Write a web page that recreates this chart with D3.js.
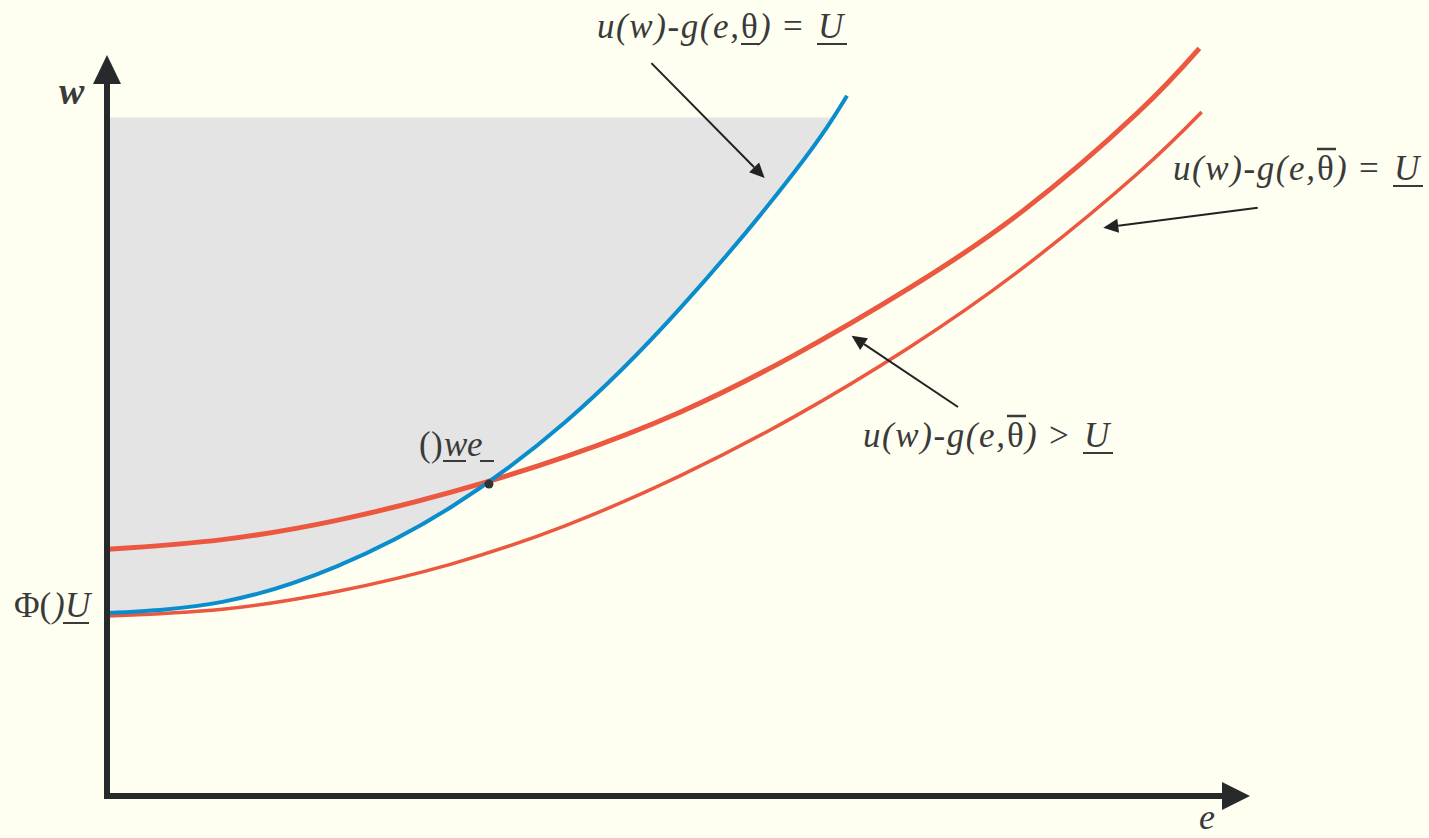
<!DOCTYPE html>
<html>
<head>
<meta charset="utf-8">
<script src="https://cdn.jsdelivr.net/npm/d3@7"></script>
<style>
  html, body { margin: 0; padding: 0; background: #fefff1; }
  svg { display: block; }
  .lbl { font-family: "Liberation Serif", "Times New Roman", serif; fill: #3a3a3a; }
</style>
</head>
<body>
<svg id="chart" width="1429" height="838"></svg>
<script>
// Effort e (horizontal) and wage w (vertical), in model units.
const blueE = [0, 1, 2, 3, 4, 5, 6, 6.46];
const blueW = [2.47, 2.62, 3.10, 3.90, 5.05, 6.58, 8.42, 9.45];

const redHighE = [0, 1, 2, 3, 4, 5, 6, 7, 8, 9, 9.54];
const redHighW = [3.33, 3.46, 3.72, 4.10, 4.58, 5.18, 5.95, 6.85, 7.90, 9.22, 10.09];

const redLowE = [0, 1, 2, 3, 4, 5, 6, 7, 8, 9, 9.56];
const redLowW = [2.43, 2.52, 2.76, 3.13, 3.65, 4.32, 5.12, 6.05, 7.13, 8.40, 9.23];

// Contract point where the blue and thick red curves cross
const contractE = 3.33;
const contractW = 4.25;

// Upper edge of the shaded set
const shadeTopW = 9.16;

// Annotation arrows: [fromE, fromW, toE, toW]
const arrows = [
  [4.75, 9.89, 5.74, 8.34],
  [10.05, 7.94, 8.70, 7.67],
  [7.43, 5.25, 6.50, 6.21]
];

const W = 1429, H = 838;
const svg = d3.select("#chart");

const x = d3.scaleLinear().domain([0, 10]).range([108, 1252]);
const y = d3.scaleLinear().domain([0, 10]).range([796, 55]);

svg.append("rect").attr("width", W).attr("height", H).attr("fill", "#fefff1");

const toPts = (es, ws) => es.map((e, i) => [e, ws[i]]);
const bluePts = toPts(blueE, blueW);
const redHighPts = toPts(redHighE, redHighW);
const redLowPts = toPts(redLowE, redLowW);

const curve = d3.curveNatural;
const line = d3.line().x(d => x(d[0])).y(d => y(d[1])).curve(curve);

// Shaded region: between the blue curve and the top edge
const defs = svg.append("defs");
defs.append("clipPath").attr("id", "shadeClip")
  .append("rect")
  .attr("x", x(0)).attr("y", y(shadeTopW))
  .attr("width", x(10) - x(0)).attr("height", y(0) - y(shadeTopW));

svg.append("path")
  .attr("clip-path", "url(#shadeClip)")
  .attr("fill", "#e4e4e4")
  .attr("d", d3.area()
    .x(d => x(d[0]))
    .y0(d => y(d[1]))
    .y1(() => y(shadeTopW))
    .curve(curve)(bluePts));

// Curves
svg.append("path").attr("d", line(redLowPts))
  .attr("fill", "none").attr("stroke", "#ec5740").attr("stroke-width", 3.5);
svg.append("path").attr("d", line(redHighPts))
  .attr("fill", "none").attr("stroke", "#ec5740").attr("stroke-width", 5);
svg.append("path").attr("d", line(bluePts))
  .attr("fill", "none").attr("stroke", "#0a8dcc").attr("stroke-width", 4);

svg.append("circle")
  .attr("cx", x(contractE)).attr("cy", y(contractW) + 3).attr("r", 4.5)
  .attr("fill", "#333");

// Axes with arrowheads
const axisColor = "#262a2b";
const ox = x(0) - 1, oy = y(0);
svg.append("line").attr("x1", ox).attr("y1", oy + 3).attr("x2", ox).attr("y2", 80)
  .attr("stroke", axisColor).attr("stroke-width", 6);
svg.append("path")
  .attr("d", `M${ox},55 L${ox + 14},84 L${ox - 14},84 Z`).attr("fill", axisColor);
svg.append("line").attr("x1", ox - 3).attr("y1", oy).attr("x2", 1226).attr("y2", oy)
  .attr("stroke", axisColor).attr("stroke-width", 6);
svg.append("path")
  .attr("d", `M1250,${oy} L1222,${oy - 14} L1222,${oy + 14} Z`).attr("fill", axisColor);

// Annotation arrows
arrows.forEach(([e0, w0, e1, w1]) => {
  const x0 = x(e0), y0 = y(w0), x1 = x(e1), y1 = y(w1);
  const ang = Math.atan2(y1 - y0, x1 - x0);
  const len = 15, half = 7;
  const bx = x1 - len * Math.cos(ang), by = y1 - len * Math.sin(ang);
  svg.append("line").attr("x1", x0).attr("y1", y0).attr("x2", bx).attr("y2", by)
    .attr("stroke", "#222").attr("stroke-width", 2);
  const px = -Math.sin(ang) * half, py = Math.cos(ang) * half;
  svg.append("path")
    .attr("d", `M${x1},${y1} L${bx + px},${by + py} L${bx - px},${by - py} Z`)
    .attr("fill", "#222");
});

// One text element per label; each piece is a tspan placed on its own.
function label(px, py, size, pieces) {
  const t = svg.append("text").attr("class", "lbl")
    .attr("x", px).attr("y", py).attr("font-size", size);
  pieces.forEach(p => {
    const s = t.append("tspan")
      .attr("x", px + p.dx).attr("y", py + (p.dy || 0))
      .attr("font-style", p.italic ? "italic" : "normal")
      .attr("font-weight", p.bold ? "bold" : "normal")
      .text(p.s);
    if (p.len) s.attr("textLength", p.len).attr("lengthAdjust", "spacing");
  });
  return t;
}
function bar(x1, x2, py, w = 2) {
  svg.append("line").attr("x1", x1).attr("x2", x2).attr("y1", py).attr("y2", py)
    .attr("stroke", "#3a3a3a").attr("stroke-width", w);
}

// Constraint labels: u(w)-g(e,θ) rel U
function constraintLabel(px, py, rel, thetaBar) {
  label(px, py, 35, [
    { s: "u(w)-g(e,", dx: 0, italic: true, len: 142 },
    { s: "θ", dx: 144 },
    { s: ")", dx: 162, italic: true },
    { s: rel, dx: 186 },
    { s: "U", dx: 221, italic: true }
  ]);
  if (thetaBar === "under") bar(px + 144, px + 163, py + 6);
  else bar(px + 144, px + 163, py - 31, 2.5);
  bar(px + 220, px + 250, py + 6);
}
constraintLabel(597, 38, "=", "under");
constraintLabel(1173, 180, "=", "over");
constraintLabel(863, 447, ">", "over");

// Axis titles
label(59, 104, 38, [{ s: "w", dx: 0, italic: true, bold: true }]);
label(1199, 829, 36, [{ s: "e", dx: 0, italic: true }]);

// Φ(U) on the wage axis
label(14, 617, 35, [
  { s: "Φ(", dx: 0 },
  { s: ")", dx: 39, italic: true },
  { s: "U", dx: 51, italic: true }
]);
bar(63, 89, 623);

// Contract label near the crossing
label(419, 456, 35, [
  { s: "(", dx: 0 },
  { s: ")", dx: 12 },
  { s: "w", dx: 25, italic: true },
  { s: "e", dx: 48, italic: true }
]);
bar(443, 466, 461);
bar(480, 494, 461);
</script>
</body>
</html>
